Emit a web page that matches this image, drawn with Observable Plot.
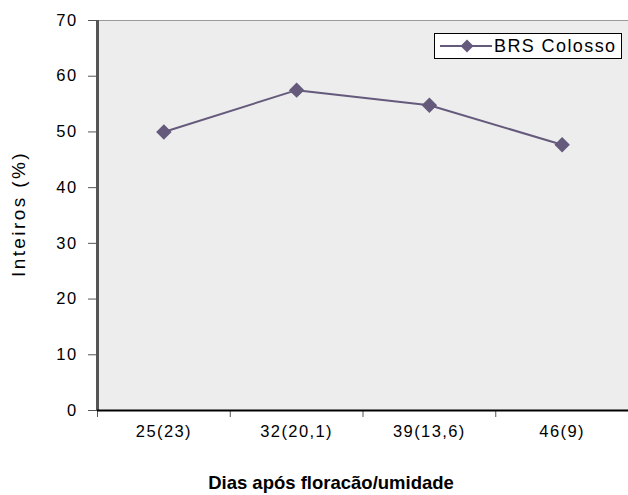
<!DOCTYPE html>
<html><head><meta charset="utf-8">
<script src="https://cdn.jsdelivr.net/npm/d3@7"></script>
<script src="https://cdn.jsdelivr.net/npm/@observablehq/plot@0.6"></script>
<style>
body{margin:0;background:#fff;font-family:"Liberation Sans",Arial,sans-serif;}
#wrap{position:relative;width:628px;height:495px;overflow:hidden;}
#wrap svg text{font-family:"Liberation Sans",Arial,sans-serif;font-size:16.5px;letter-spacing:1.4px;fill:#000;}
#ylab{position:absolute;left:18px;top:214px;transform:translate(-50%,-50%) rotate(-90deg);font-size:19px;letter-spacing:2.4px;line-height:1;white-space:nowrap;color:#000;}
#xlab{position:absolute;left:331px;top:474px;transform:translateX(-50%);font-size:18.5px;line-height:18px;font-weight:bold;white-space:nowrap;color:#000;}
#legend{position:absolute;left:434px;top:33px;width:188px;height:26px;border:1px solid #000;background:#fff;box-sizing:border-box;display:flex;align-items:center;font-size:18px;letter-spacing:1.4px;}
#legend svg{margin-left:5px;margin-right:2px;}
</style></head>
<body><div id="wrap"></div>
<script>
const categories = ["25(23)", "32(20,1)", "39(13,6)", "46(9)"];
const values = [50.0, 57.5, 54.8, 47.7];
const seriesName = "BRS Colosso";
const yTicks = [0, 10, 20, 30, 40, 50, 60, 70];
const xLabel = "Dias após floracão/umidade";
const yLabel = "Inteiros (%)";

const color = "#655a7c";
const data = categories.map((c, i) => ({c, i, x: i + 0.5, y: values[i]}));

const chart = Plot.plot({
  width: 628, height: 495,
  marginLeft: 97, marginRight: 0, marginTop: 20, marginBottom: 85,
  style: {background: "transparent"},
  x: {type: "linear", domain: [0, categories.length]},
  y: {domain: [0, 70]},
  marks: [
    Plot.frame({fill: "#ededed", stroke: null}),
    Plot.ruleY([70], {stroke: "#999", strokeWidth: 1}),
    Plot.axisY({ticks: yTicks, tickSize: 9, tickPadding: 11, stroke: "#555", label: null}),
    Plot.axisX({ticks: d3.range(categories.length), tickSize: 7, tickFormat: () => "", stroke: "#555", label: null}),
    Plot.axisX({ticks: data.map(d => d.x), tickSize: 0, tickPadding: 15, tickFormat: (d) => categories[Math.floor(d)], label: null}),
    Plot.ruleX([0], {stroke: "#555", strokeWidth: 3}),
    Plot.ruleY([0], {stroke: "#000", strokeWidth: 2}),
    Plot.line(data, {x: "x", y: "y", stroke: color, strokeWidth: 2}),
    Plot.dot(data, {x: "x", y: "y", symbol: "diamond2", fill: color, stroke: color, r: 6})
  ]
});
const wrap = document.getElementById("wrap");
wrap.appendChild(chart);
const yl = document.createElement("div"); yl.id = "ylab"; yl.textContent = yLabel; wrap.appendChild(yl);
const xl = document.createElement("div"); xl.id = "xlab"; xl.textContent = xLabel; wrap.appendChild(xl);
const lg = document.createElement("div"); lg.id = "legend";
lg.innerHTML = `<svg width="52" height="14"><line x1="0" y1="7" x2="52" y2="7" stroke="${color}" stroke-width="2"/><path d="M27,0.5 L33.5,7 L27,13.5 L20.5,7 Z" fill="${color}"/></svg><span>${seriesName}</span>`;
wrap.appendChild(lg);
</script></body></html>
